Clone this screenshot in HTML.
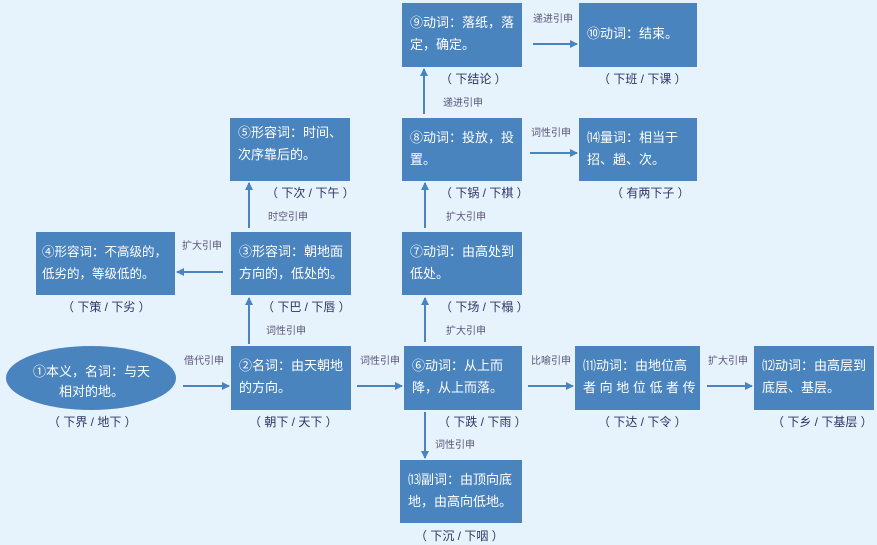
<!DOCTYPE html>
<html><head><meta charset="utf-8"><style>
body{margin:0;width:877px;height:545px;background:#e6f3fd;position:relative;overflow:hidden;font-family:"Liberation Sans","Noto Sans CJK SC",sans-serif}
.b{position:absolute;background:#4a84bf;color:#fff;font-size:13px;line-height:22px;padding:9px 0 0 8px;box-sizing:border-box;white-space:nowrap;overflow:hidden}
.l{position:absolute;color:#2c3563;font-size:12px;white-space:nowrap}
.c{position:absolute;color:#5a5577;font-size:10px;white-space:nowrap}
svg{position:absolute;left:0;top:0}
</style></head><body>
<svg width="877" height="545">
<defs><marker id="a" markerWidth="8" markerHeight="8" refX="7" refY="4" orient="auto" markerUnits="userSpaceOnUse"><path d="M0,0 L8,4 L0,8 z" fill="#4a84bf"/></marker></defs>
<ellipse cx="91" cy="378" rx="85" ry="32" fill="#4a84bf"/>
<g stroke="#4a84bf" stroke-width="2" marker-end="url(#a)">
<line x1="183" y1="386" x2="229" y2="386"/>
<line x1="357" y1="386" x2="402" y2="386"/>
<line x1="528" y1="386" x2="573" y2="386"/>
<line x1="707" y1="386" x2="752" y2="386"/>
<line x1="249" y1="344" x2="249" y2="298"/>
<line x1="223" y1="272" x2="177" y2="272"/>
<line x1="249" y1="228" x2="249" y2="183"/>
<line x1="425" y1="342" x2="425" y2="298"/>
<line x1="425" y1="228" x2="425" y2="183"/>
<line x1="424" y1="114" x2="424" y2="69"/>
<line x1="533" y1="44" x2="577" y2="44"/>
<line x1="530" y1="153" x2="577" y2="153"/>
<line x1="425" y1="412" x2="425" y2="458"/>
</g></svg>
<div style="position:absolute;left:6px;top:362px;width:171px;text-align:center;color:#fff;font-size:13px;line-height:20px">①本义，名词：与天<br>相对的地。</div>
<div class="b" style="left:402px;top:3px;width:120px;height:64px">⑨动词：落纸，落<br>定，确定。</div>
<div class="b" style="left:579px;top:3px;width:118px;height:64px;padding-top:20px">⑩动词：结束。</div>
<div class="b" style="left:230px;top:118px;width:120px;height:63px;padding-top:4px">⑤形容词：时间、<br>次序靠后的。</div>
<div class="b" style="left:402px;top:118px;width:120px;height:63px">⑧动词：投放，投<br>置。</div>
<div class="b" style="left:579px;top:118px;width:118px;height:63px">⒁量词：相当于<br>招、趟、次。</div>
<div class="b" style="left:36px;top:232px;width:139px;height:63px;font-size:12.5px;padding-left:6px">④形容词：不高级的，<br>低劣的，等级低的。</div>
<div class="b" style="left:231px;top:232px;width:120px;height:63px">③形容词：朝地面<br>方向的，低处的。</div>
<div class="b" style="left:402px;top:232px;width:120px;height:63px">⑦动词：由高处到<br>低处。</div>
<div class="b" style="left:231px;top:346px;width:120px;height:64px">②名词：由天朝地<br>的方向。</div>
<div class="b" style="left:404px;top:346px;width:118px;height:64px">⑥动词：从上而<br>降，从上而落。</div>
<div class="b" style="left:575px;top:346px;width:125px;height:64px">⑾动词：由地位高<br>者 向 地 位 低 者 传</div>
<div class="b" style="left:754px;top:346px;width:120px;height:64px">⑿动词：由高层到<br>底层、基层。</div>
<div class="b" style="left:400px;top:460px;width:122px;height:63px">⒀副词：由顶向底<br>地，由高向低地。</div>
<div class="l" style="left:440px;top:70px">（ 下结论 ）</div>
<div class="l" style="left:598px;top:70px">（ 下班 / 下课 ）</div>
<div class="l" style="left:266px;top:184px">（ 下次 / 下午 ）</div>
<div class="l" style="left:440px;top:184px">（ 下锅 / 下棋 ）</div>
<div class="l" style="left:611px;top:184px">（ 有两下子 ）</div>
<div class="l" style="left:62px;top:298px">（ 下策 / 下劣 ）</div>
<div class="l" style="left:262px;top:298px">（ 下巴 / 下唇 ）</div>
<div class="l" style="left:440px;top:298px">（ 下场 / 下榻 ）</div>
<div class="l" style="left:48px;top:413px">（ 下界 / 地下 ）</div>
<div class="l" style="left:249px;top:413px">（ 朝下 / 天下 ）</div>
<div class="l" style="left:438px;top:413px">（ 下跌 / 下雨 ）</div>
<div class="l" style="left:598px;top:413px">（ 下达 / 下令 ）</div>
<div class="l" style="left:772px;top:413px">（ 下乡 / 下基层 ）</div>
<div class="l" style="left:415px;top:527px">（ 下沉 / 下咽 ）</div>
<div class="c" style="left:533px;top:10px">递进引申</div>
<div class="c" style="left:443px;top:94px">递进引申</div>
<div class="c" style="left:531px;top:124px">词性引申</div>
<div class="c" style="left:268px;top:208px">时空引申</div>
<div class="c" style="left:446px;top:208px">扩大引申</div>
<div class="c" style="left:182px;top:237px">扩大引申</div>
<div class="c" style="left:266px;top:322px">词性引申</div>
<div class="c" style="left:446px;top:322px">扩大引申</div>
<div class="c" style="left:184px;top:352px">借代引申</div>
<div class="c" style="left:360px;top:352px">词性引申</div>
<div class="c" style="left:531px;top:352px">比喻引申</div>
<div class="c" style="left:708px;top:352px">扩大引申</div>
<div class="c" style="left:435px;top:436px">词性引申</div>
</body></html>
